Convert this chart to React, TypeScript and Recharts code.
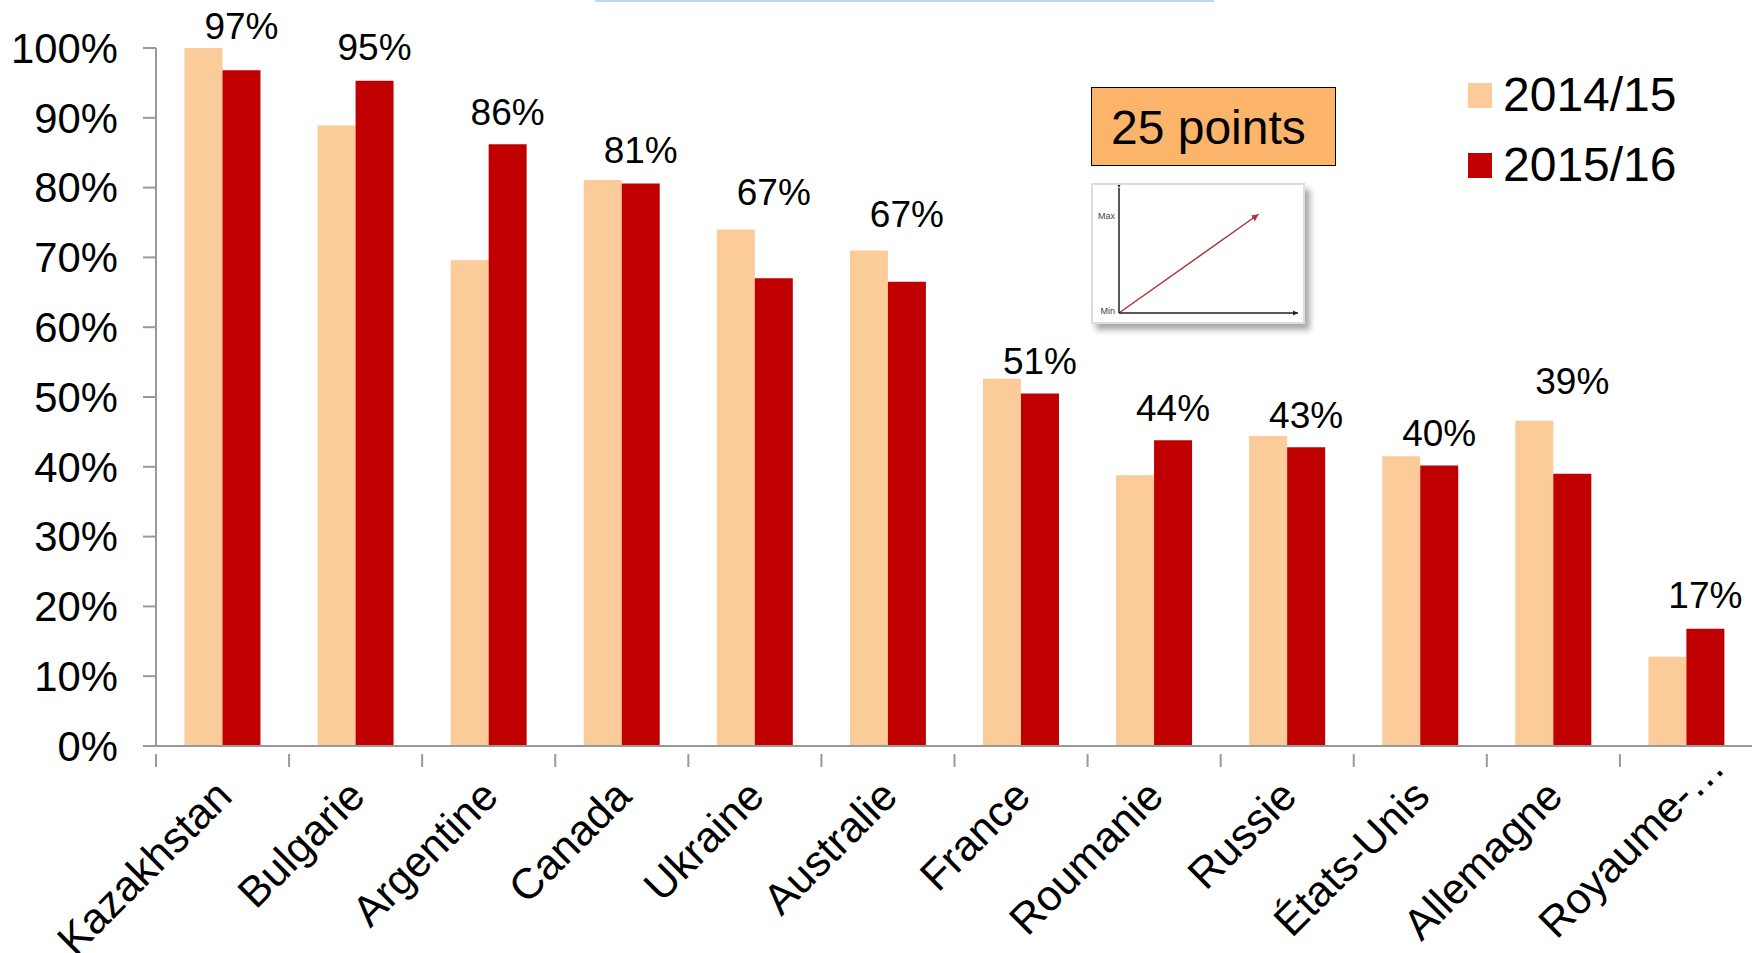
import { BarChart, Bar, XAxis, YAxis, Legend, LabelList, LineChart, Line } from "recharts";

const FONT = '"Liberation Sans", Arial, sans-serif';
const AXIS_GREY = "#999999";

const countries = ["Kazakhstan", "Bulgarie", "Argentine", "Canada", "Ukraine", "Australie", "France", "Roumanie", "Russie", "États-Unis", "Allemagne", "Royaume-…"];
const season1415 = [100, 88.9, 69.6, 81.1, 74, 71, 52.6, 38.8, 44.4, 41.5, 46.6, 12.8];
const season1516 = [96.8, 95.3, 86.2, 80.6, 67, 66.5, 50.5, 43.8, 42.8, 40.2, 39, 16.8];
const percentTicks = [0, 10, 20, 30, 40, 50, 60, 70, 80, 90, 100];

// how far each value label floats above its red bar (px)
const labelLift = [44, 33, 32, 33, 86, 67, 32, 32, 32, 32, 92, 33];

const insetPoints = [{ x: 0, y: 0 }, { x: 0.78, y: 0.79 }];
const insetTicks = [0, 0.76];
const insetTickNames = ["Min", "Max"];

const chartData = countries.map((name, i) => ({ name, a: season1415[i], b: season1516[i] }));

const BAND = 1597 / countries.length;

function CountryTick({ x, y, payload, index }: any) {
  // the truncated last label sits further along the slant than the others
  const slide = index === countries.length - 1 ? 41 : 0;
  return (
    <g>
      <line x1={x - BAND / 2} x2={x - BAND / 2} y1={y} y2={y + 13} stroke={AXIS_GREY} strokeWidth={2} />
      <text
        x={x + 1}
        y={y + 34}
        dx={slide}
        textAnchor="end"
        dominantBaseline="central"
        transform={`rotate(-45 ${x + 1} ${y + 34})`}
        fontSize={43}
        fontFamily={FONT}
        fill="#000"
      >
        {payload.value}
      </text>
    </g>
  );
}

function LiftedLabel({ x, y, width, value, index }: any) {
  return (
    <text
      x={x + width / 2}
      y={y - labelLift[index]}
      textAnchor="middle"
      dominantBaseline="central"
      fontSize={37}
      fontFamily={FONT}
      fill="#000"
    >
      {Math.round(value)}%
    </text>
  );
}

function SeasonLegend({ payload }: any) {
  return (
    <div>
      {(payload || []).map((p: any, i: number) => (
        <div key={p.value} style={{ position: "absolute", left: 0, top: i * 70, height: 50, display: "flex", alignItems: "center" }}>
          <span style={{ display: "block", width: 24, height: 25, background: p.color, marginRight: 11 }} />
          <span style={{ display: "block", fontSize: 48, fontFamily: FONT, color: "#000", whiteSpace: "nowrap", position: "relative", top: -1 }}>
            {p.value}
          </span>
        </div>
      ))}
    </div>
  );
}

function InsetChart() {
  return (
    <div style={{ position: "absolute", left: 1091, top: 183, width: 214, height: 141, background: "#fff", border: "2px solid #dddddd", boxSizing: "border-box", boxShadow: "5px 6px 6px #aaaaaa" }}>
      <LineChart width={210} height={137} data={insetPoints} margin={{ top: 3, right: 5, bottom: 9, left: 0 }}>
        <defs>
          <marker id="blackHead" markerWidth="6" markerHeight="6" refX="5" refY="2.5" orient="auto" markerUnits="userSpaceOnUse">
            <path d="M0,0 L5,2.5 L0,5 Z" fill="#222" />
          </marker>
          <marker id="redHead" markerWidth="8" markerHeight="8" refX="7" refY="3.5" orient="auto" markerUnits="userSpaceOnUse">
            <path d="M0,0 L7,3.5 L0,7 Z" fill="#b5333c" />
          </marker>
        </defs>
        <XAxis
          dataKey="x"
          type="number"
          domain={[0, 1]}
          height={0.01}
          tick={false}
          tickLine={false}
          axisLine={{ stroke: "#222", strokeWidth: 1.5, markerEnd: "url(#blackHead)" } as any}
        />
        <YAxis
          type="number"
          domain={[0, 1]}
          width={26}
          ticks={insetTicks}
          tickFormatter={(v: number) => insetTickNames[insetTicks.indexOf(v)]}
          tick={{ fontSize: 9, fontFamily: FONT, fill: "#444", dy: -2 }}
          tickLine={false}
          tickMargin={1}
          tickSize={3}
          axisLine={{ stroke: "#222", strokeWidth: 1.5, markerStart: "url(#blackHead)" } as any}
        />
        <Line dataKey="y" stroke="#b5333c" strokeWidth={1.5} dot={false} isAnimationActive={false} markerEnd="url(#redHead)" />
      </LineChart>
    </div>
  );
}

export default function App() {
  return (
    <div style={{ position: "fixed", left: 0, top: 0, width: 1752, height: 953, background: "#fff", overflow: "hidden" }}>
      <div style={{ position: "absolute", left: 595, top: 0, width: 619, height: 2, background: "#bbdcf0" }} />
      <BarChart width={1753} height={953} data={chartData} barCategoryGap="21.4%" barGap={0} margin={{ top: 48, right: 0, bottom: 0, left: 0 }}>
        <XAxis
          dataKey="name"
          interval={0}
          height={207}
          tick={<CountryTick />}
          tickLine={false}
          axisLine={{ stroke: AXIS_GREY, strokeWidth: 2 }}
        />
        <YAxis
          width={156}
          domain={[0, 100]}
          ticks={percentTicks}
          tickFormatter={(v: number) => `${v}%`}
          tick={{ fontSize: 41.8, fontFamily: FONT, fill: "#000" }}
          tickSize={13}
          tickMargin={25}
          tickLine={{ stroke: AXIS_GREY, strokeWidth: 2 }}
          axisLine={{ stroke: AXIS_GREY, strokeWidth: 2 }}
        />
        <Legend
          layout="vertical"
          align="center"
          verticalAlign="middle"
          content={<SeasonLegend />}
          wrapperStyle={{ position: "absolute", left: 1468, top: 70, width: 240, height: 120 }}
        />
        <Bar dataKey="a" name="2014/15" fill="#fbcb99" isAnimationActive={false} />
        <Bar dataKey="b" name="2015/16" fill="#c00000" isAnimationActive={false}>
          <LabelList dataKey="b" content={<LiftedLabel />} />
        </Bar>
      </BarChart>
      <div style={{ position: "absolute", left: 1091, top: 87, width: 245, height: 79, boxSizing: "border-box", background: "#fcb46b", border: "1.5px solid #000", display: "flex", alignItems: "center", paddingLeft: 19, paddingTop: 2 }}>
        <span style={{ fontSize: 48, fontFamily: FONT, color: "#000", whiteSpace: "nowrap" }}>25 points</span>
      </div>
      <InsetChart />
    </div>
  );
}
